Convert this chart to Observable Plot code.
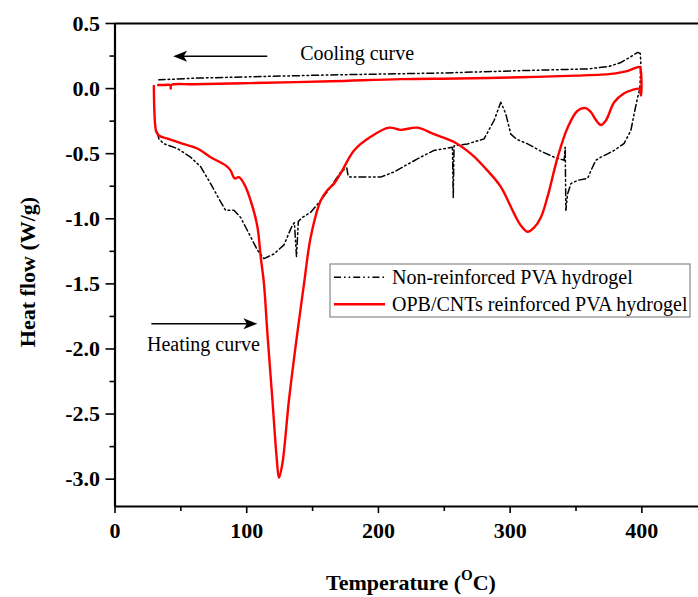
<!DOCTYPE html>
<html><head><meta charset="utf-8">
<script src="https://cdn.jsdelivr.net/npm/d3@7"></script>
<script src="https://cdn.jsdelivr.net/npm/@observablehq/plot@0.6"></script>
<style>
body{margin:0;background:#fff;}
#chart svg, #chart svg text{font-family:"Liberation Serif","Times New Roman",serif;}
</style>
</head><body><div id="chart"></div>
<script>
// ---- axes ----
const xDomain = [0, 443];
const yDomain = [-3.21, 0.5];
const xTicks = [0, 100, 200, 300, 400];
const xMinorTicks = [50, 150, 250, 350];
const yTicks = [-3, -2.5, -2, -1.5, -1, -0.5, 0, 0.5];
const yMinorTicks = [-2.75, -2.25, -1.75, -1.25, -0.75, -0.25, 0.25];

// ---- series: OPB/CNTs reinforced PVA hydrogel (heating then cooling) ----
const redT = [29.5, 29.8, 30.5, 31.3, 33.3, 40, 47.3, 55, 62.5, 72.6, 84.0, 87.8, 90.8, 94.1, 97.9, 103.0, 108.1, 110.6, 113.1, 115.7, 119.5, 122.7, 124.5, 127.1, 132.1, 138.4, 143.5, 148.6, 156.2, 161.2, 166.3, 171.4, 181.5, 194.1, 208.1, 216.9, 229.6, 242.2, 257.4, 270.1, 282.8, 292.9, 303.0, 308, 313.2, 318, 323.3, 328.4, 336.0, 343.6, 351.2, 357.5, 361.3, 365, 368.9, 372.7, 379.0, 386.6, 393, 398.0, 399.4, 399.4, 398.5, 396.3, 390, 384.1, 376.6, 369, 350, 308, 260, 217, 163.7, 103, 60, 42.6, 42.3, 42.0, 38, 32.8];
const redV = [0.02, -0.15, -0.28, -0.33, -0.36, -0.385, -0.41, -0.435, -0.46, -0.527, -0.59, -0.63, -0.69, -0.68, -0.73, -0.86, -1.06, -1.29, -1.50, -1.88, -2.39, -2.83, -2.99, -2.88, -2.39, -1.88, -1.50, -1.14, -0.86, -0.78, -0.73, -0.65, -0.475, -0.37, -0.30, -0.317, -0.30, -0.35, -0.41, -0.50, -0.63, -0.755, -0.96, -1.05, -1.10, -1.07, -0.99, -0.83, -0.53, -0.30, -0.17, -0.15, -0.18, -0.24, -0.28, -0.245, -0.105, -0.036, -0.01, -0.002, -0.054, 0.12, 0.165, 0.163, 0.138, 0.125, 0.113, 0.107, 0.10, 0.087, 0.078, 0.073, 0.056, 0.042, 0.033, 0.027, 0.0, 0.027, 0.028, 0.028];

// ---- series: Non-reinforced PVA hydrogel (heating then cooling) ----
const blackT = [32.1, 33.3, 37.1, 47.3, 57.4, 65, 72.6, 80.2, 84, 90.3, 95.4, 100.5, 108.1, 113.1, 120.7, 128.3, 134.6, 136.2, 137.8, 139.2, 142.2, 148.6, 156.2, 163.7, 171.4, 176, 177, 178.5, 185, 201.7, 211.9, 229.6, 242.2, 256.2, 256.8, 257.4, 267.6, 280.2, 287.8, 292.9, 296.7, 300.5, 305, 313.2, 323.3, 333.4, 341, 341.8, 342.3, 343.6, 346.1, 351.2, 358.8, 361.3, 365.1, 368.9, 379, 386.6, 391.7, 394.2, 396.8, 398.5, 399.2, 398.8, 396.8, 390, 384, 375, 358.8, 308, 250, 163.7, 100, 60, 33.3];
const blackV = [-0.335, -0.386, -0.424, -0.46, -0.527, -0.60, -0.73, -0.87, -0.935, -0.935, -0.99, -1.09, -1.24, -1.306, -1.27, -1.20, -1.05, -1.03, -1.29, -1.02, -0.99, -0.95, -0.86, -0.757, -0.64, -0.61, -0.67, -0.68, -0.68, -0.68, -0.64, -0.54, -0.475, -0.45, -0.84, -0.44, -0.425, -0.386, -0.245, -0.105, -0.194, -0.35, -0.39, -0.424, -0.48, -0.527, -0.55, -0.45, -0.935, -0.81, -0.73, -0.705, -0.69, -0.63, -0.55, -0.527, -0.475, -0.42, -0.32, -0.19, -0.067, 0.0, 0.2, 0.27, 0.278, 0.235, 0.20, 0.17, 0.151, 0.138, 0.12, 0.105, 0.09, 0.08, 0.067];

const seriesNames = ["Non-reinforced PVA hydrogel", "OPB/CNTs reinforced PVA hydrogel"];
const seriesColors = ["#000000", "#ff0000"];

// ---- annotations (data units) ----
const coolArrow = {x1: 116, x2: 44.5, y: 0.245};
const heatArrow = {x1: 28, x2: 108.5, y: -1.81};
const coolLabel = {x: 141, y: 0.215, text: "Cooling curve"};
const heatLabel = {x: 24.7, y: -2.022, text: "Heating curve"};

const red = redT.map((t, i) => ({T: t, V: redV[i]}));
const black = blackT.map((t, i) => ({T: t, V: blackV[i]}));
const fmt = v => v.toFixed(1);
const serif = "Liberation Serif, Times New Roman, serif";

const plot = Plot.plot({
  width: 698,
  height: 597,
  marginLeft: 114.5,
  marginRight: 0,
  marginTop: 23,
  marginBottom: 91,
  style: {fontFamily: serif, background: "#fff"},
  x: {domain: xDomain},
  y: {domain: yDomain},
  marks: [
    Plot.axisY({ticks: yMinorTicks, tickSize: 5, tickFormat: () => "", label: null}),
    Plot.axisY({ticks: yTicks, tickSize: 9, tickPadding: 6, tickFormat: fmt, fontSize: 22, fontWeight: "bold", fontFamily: serif, label: null}),
    Plot.axisX({ticks: xMinorTicks, tickSize: 5, tickFormat: () => "", label: null}),
    Plot.axisX({ticks: xTicks, tickSize: 7, tickPadding: 9, tickFormat: d => String(d), fontSize: 22, fontWeight: "bold", fontFamily: serif, label: null}),
    Plot.line(black, {x: "T", y: "V", stroke: seriesColors[0], strokeWidth: 1.5, strokeDasharray: "7,3,1.6,3,1.6,3"}),
    Plot.line(red, {x: "T", y: "V", stroke: seriesColors[1], strokeWidth: 2.4, curve: "catmull-rom"}),
    Plot.ruleY([yDomain[1]], {stroke: "#000", strokeWidth: 2.2}),
    Plot.ruleY([yDomain[0]], {stroke: "#000", strokeWidth: 2.2}),
    Plot.ruleX([xDomain[0]], {stroke: "#000", strokeWidth: 2.2})
  ]
});

document.getElementById("chart").appendChild(plot);
const svg = d3.select(plot);
svg.selectAll('g[aria-label="y-axis tick label"] text, g[aria-label="x-axis tick label"] text')
  .attr("font-weight", "bold").attr("font-family", serif).attr("fill", "#000");
svg.selectAll('g[aria-label="y-axis tick"], g[aria-label="x-axis tick"]')
  .attr("stroke", "#000").attr("stroke-width", 1.6);

const sx = plot.scale("x"), sy = plot.scale("y");
const X = v => sx.apply(v), Y = v => sy.apply(v);

// arrows
function arrow(a) {
  const x1 = X(a.x1), x2 = X(a.x2), y = Y(a.y);
  const dir = Math.sign(x2 - x1);
  const hl = 14, hw = 5.5;
  svg.append("line").attr("x1", x1).attr("x2", x2 - dir * hl * 0.7).attr("y1", y).attr("y2", y)
    .attr("stroke", "#000").attr("stroke-width", 1.6);
  svg.append("polygon")
    .attr("points", `${x2},${y} ${x2 - dir * hl},${y - hw} ${x2 - dir * hl * 0.75},${y} ${x2 - dir * hl},${y + hw}`)
    .attr("fill", "#000");
}
arrow(coolArrow);
arrow(heatArrow);
[coolLabel, heatLabel].forEach(l => {
  svg.append("text").attr("x", X(l.x)).attr("y", Y(l.y)).attr("text-anchor", "start")
    .attr("font-size", 20).attr("font-family", serif).attr("fill", "#000").text(l.text);
});

// legend
const lg = svg.append("g");
lg.append("rect").attr("x", 330).attr("y", 264).attr("width", 360).attr("height", 53)
  .attr("fill", "#fff").attr("stroke", "#888").attr("stroke-width", 1.2);
const rows = [277.3, 304.3];
seriesNames.forEach((name, i) => {
  lg.append("line").attr("x1", 334).attr("x2", 385).attr("y1", rows[i]).attr("y2", rows[i])
    .attr("stroke", seriesColors[i]).attr("stroke-width", i === 0 ? 1.5 : 2.4)
    .attr("stroke-dasharray", i === 0 ? "7,3,1.6,3,1.6,3" : null);
  lg.append("text").attr("x", 392).attr("y", rows[i] + 7).attr("text-anchor", "start")
    .attr("font-size", 20).attr("font-family", serif).attr("fill", "#000").text(name);
});

// axis titles
svg.append("text").attr("transform", "translate(27,272) rotate(-90)")
  .attr("text-anchor", "middle").attr("dominant-baseline", "central")
  .attr("font-size", 22).attr("font-weight", "bold").attr("font-family", serif).attr("fill", "#000")
  .text("Heat flow (W/g)");
const xt = svg.append("text").attr("x", 411).attr("y", 590)
  .attr("text-anchor", "middle").attr("font-size", 22).attr("font-weight", "bold").attr("font-family", serif).attr("fill", "#000");
xt.append("tspan").text("Temperature (");
xt.append("tspan").attr("font-size", 15).attr("dy", -10).text("O");
xt.append("tspan").attr("dy", 10).text("C)");
</script>
</body></html>
